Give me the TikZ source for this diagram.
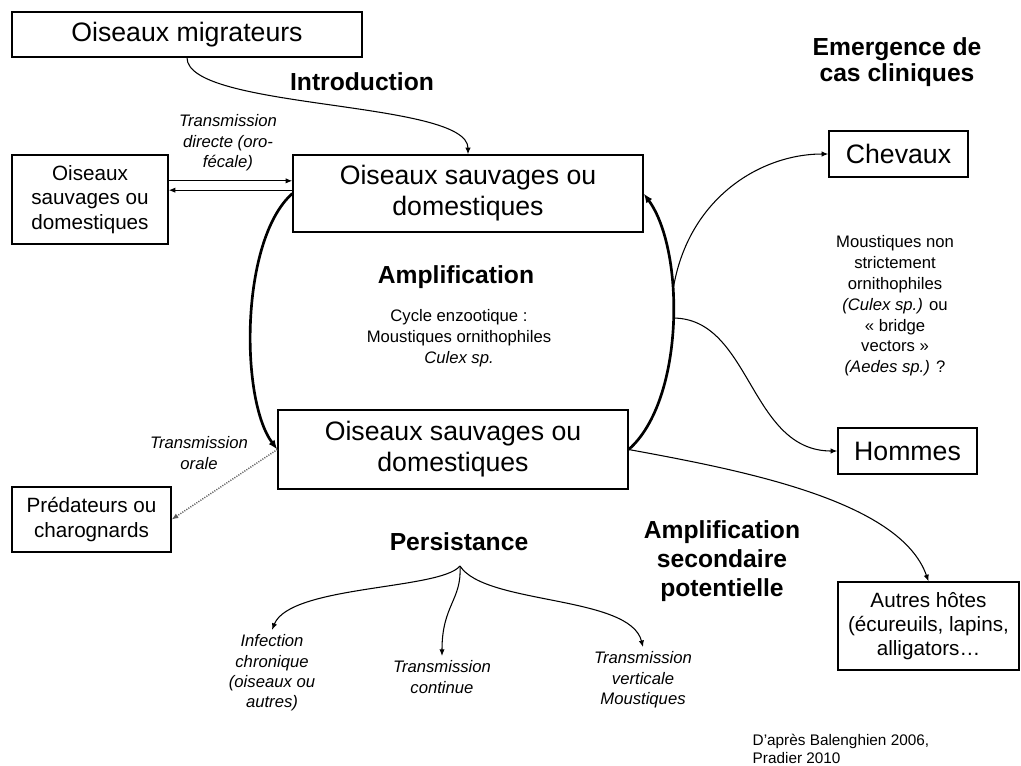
\documentclass[tikz,border=0pt]{standalone}
\usepackage{fontspec}
\setmainfont{Liberation Sans}
\usetikzlibrary{arrows.meta}

\begin{document}
\begin{tikzpicture}[x=0.75pt, y=-0.75pt,
    hostbox/.style={draw, line width=1pt, inner sep=0pt, align=center},
    bigfont/.style={font=\fontsize{20}{23.3}\selectfont},
    midfont/.style={font=\fontsize{15.5}{18.2}\selectfont},
    notefont/.style={font=\fontsize{12.5}{15.6}\selectfont, align=center},
    noteit/.style={font=\fontsize{12.5}{15.3}\selectfont\itshape, align=center},
    headfont/.style={font=\bfseries\fontsize{18.5}{21.8}\selectfont, align=center},
    arr/.style={-{Latex[length=5pt, width=4pt]}, line width=0.8pt},
    cyclearr/.style={-{Latex[length=7pt, width=5.5pt]}, line width=2pt}
    ]
    \useasboundingbox (0,0) rectangle (1021,765);

    \node[hostbox, bigfont, minimum width=262.5pt, minimum height=33.75pt] (migr) at (187,34.5) {Oiseaux migrateurs};
    \node[hostbox, midfont, minimum width=117pt, minimum height=66.75pt] (wildL) at (90,199.5) {Oiseaux\\sauvages ou\\domestiques};
    \node[hostbox, bigfont, minimum width=262.5pt, minimum height=57.75pt] (wildA) at (468,193.5) {Oiseaux sauvages ou\\domestiques};
    \node[hostbox, bigfont, minimum width=262.5pt, minimum height=59.25pt] (wildB) at (453,449.5) {Oiseaux sauvages ou\\domestiques};
    \node[hostbox, bigfont, minimum width=104.25pt, minimum height=34.5pt] (chev) at (898.5,154) {Chevaux};
    \node[hostbox, bigfont, minimum width=104.25pt, minimum height=34.5pt] (homm) at (907.5,451) {Hommes};
    \node[hostbox, midfont, minimum width=119.25pt, minimum height=48.75pt] (pred) at (91.5,519.5) {Prédateurs ou\\charognards};
    \node[hostbox, midfont, minimum width=135.75pt, minimum height=66pt] (autres) at (928.5,626) {Autres hôtes\\(écureuils, lapins,\\alligators\dots};

    \node[headfont] (intro) at (362,82) {Introduction};
    \node[headfont, font=\bfseries\fontsize{18.5}{19.5}\selectfont] (emerg) at (897,62) {Emergence de\\cas cliniques};
    \node[headfont] (ampl) at (456,277) {Amplification};
    \node[notefont] (enzoo) at (459,338) {Cycle enzootique :\\Moustiques ornithophiles\\\textit{Culex sp.}};
    \node[notefont] (bridge) at (895,306) {Moustiques non\\strictement\\ornithophiles\\\textit{(Culex sp.)} ou\\«~bridge\\vectors~»\\\textit{(Aedes sp.)} ?};
    \node[noteit] (direct) at (228,143) {Transmission\\directe (oro-\\fécale)};
    \node[noteit] (oral) at (199,453) {Transmission\\orale};
    \node[headfont] (persist) at (459,542) {Persistance};
    \node[noteit] (chron) at (272,673) {Infection\\chronique\\(oiseaux ou\\autres)};
    \node[noteit] (cont) at (442,677) {Transmission\\continue};
    \node[noteit] (vert) at (643,680) {Transmission\\verticale\\Moustiques};
    \node[headfont] (second) at (722,561) {Amplification\\secondaire\\potentielle};
    \node[font=\fontsize{11.5}{13.5}\selectfont, align=left, anchor=west] (source) at (748,749) {D'après Balenghien 2006,\\Pradier 2010};

    \draw[arr] (migr.south) .. controls (187,110) and (468,100) .. (wildA.north);
    \draw[arr] ([yshift=14pt]wildL.east) -- ([yshift=14pt]wildL.east -| wildA.west);
    \draw[arr] ([yshift=7pt]wildL.east -| wildA.west) -- ([yshift=7pt]wildL.east);
    \draw[cyclearr] (wildA.west) .. controls (240,240) and (240,400) .. (wildB.west);
    \draw[cyclearr] (wildB.east) .. controls (685,400) and (685,250) .. (wildA.east)
      coordinate[pos=0.52] (forkH) coordinate[pos=0.6] (forkC);
    \draw[arr] (forkC) .. controls +(13,-94) and +(-69,0) .. (chev.west);
    \draw[arr] (forkH) .. controls +(78,0) and +(-88,0) .. (homm.west);
    \draw[arr] (wildB.east) .. controls (740,470) and (900,500) .. (autres.north);
    \draw[arr, gray!70!black, densely dotted, line width=1.1pt] (wildB.west) -- (pred.east);

    \coordinate (fork) at (460,566);
    \draw[arr] (fork) .. controls (440,590) and (290,585) .. (chron.north);
    \draw[arr] (fork) .. controls (462,600) and (442,605) .. (cont.north);
    \draw[arr] (fork) .. controls (485,605) and (630,595) .. (vert.north);
\end{tikzpicture}
\end{document}
